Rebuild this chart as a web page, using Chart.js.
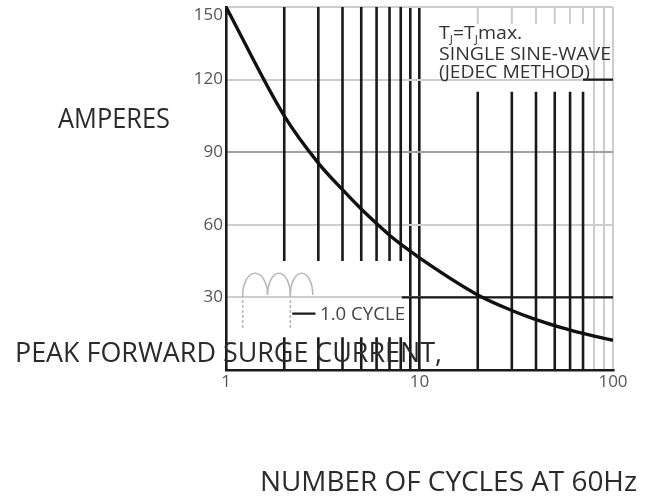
<!DOCTYPE html>
<html><head><meta charset="utf-8">
<script src="https://cdn.jsdelivr.net/npm/chart.js@4.4.1/dist/chart.umd.min.js"></script>
<style>html,body{margin:0;padding:0;background:#fff;}#wrap{position:relative;width:645px;height:499px;}</style>
</head><body><div id="wrap"><canvas id="c" width="645" height="499"></canvas></div>
<script>
// ---- data ----
const cycles  = [1, 2, 3, 4, 5, 6, 7, 8, 9, 10, 20, 30, 40, 50, 60, 70, 80, 90, 100];
const amperes = [150, 105, 85.5, 74.5, 66.5, 60.5, 55.7, 52, 49, 46.3, 31, 24.6, 20.8, 18.3, 16.5, 15.1, 14, 13.1, 12.3];
const yTicks = [0, 30, 60, 90, 120, 150];
const xTickLabels = [1, 10, 100];
// printed grid of the datasheet (values in axis units)
const brokenLowLines = [2, 3, 4, 5, 6, 7, 8];
const lowGap = [13.5, 45];
const brokenHighLines = [20, 30, 40, 50, 60, 70];
const highGap = [115, 143];
const solidDarkLines = [9, 10];
const lightLines = [80, 90, 100];
const darkHSegments = [[30, 8.1, 100], [120, 70, 100], [23.3, 2.2, 2.9]]; // [y, xFrom, xTo]
const iconBounds = [1.22, 1.64, 2.15, 2.81];
const iconLevels = [17, 31, 40]; // leg bottom, arch base, arch top

const FONT = "'Open Sans', 'DejaVu Sans', sans-serif";
const CAP = 0.714; // cap height / em for Open Sans
const DARK = '#1a1a1a';
const LIGHT = '#cdcdcd';

// build segment datasets
const darkV = [];
const lightV = [];
brokenLowLines.forEach(x => {
  darkV.push({x, y: 0}, {x, y: lowGap[0]}, {x, y: null}, {x, y: lowGap[1]}, {x, y: 150}, {x, y: null});
});
brokenHighLines.forEach(x => {
  darkV.push({x, y: 0}, {x, y: highGap[0]}, {x, y: null});
  lightV.push({x, y: highGap[1]}, {x, y: 150}, {x, y: null});
});
const darkH = [];
darkHSegments.forEach(s => { darkH.push({x: s[1], y: s[0]}, {x: s[2], y: s[0]}, {x: s[2], y: null}); });

const gridXColor = v => solidDarkLines.includes(v) ? DARK : (lightLines.includes(v) ? LIGHT : 'rgba(0,0,0,0)');
const gridYColor = v => v === 0 ? 'rgba(0,0,0,0)' : (v === 90 ? '#a0a0a0' : LIGHT);
const yMax = yTicks[yTicks.length - 1];

const annotations = {
  id: 'annotations',
  beforeDatasetsDraw(chart) {
    const ctx = chart.ctx, xs = chart.scales.x, ys = chart.scales.y;
    ctx.save();
    ctx.strokeStyle = '#b8b8b8';
    ctx.lineWidth = 1.6;
    const yb = ys.getPixelForValue(iconLevels[1]);
    const yt = ys.getPixelForValue(iconLevels[2]);
    const yl = ys.getPixelForValue(iconLevels[0]);
    for (let i = 0; i < iconBounds.length - 1; i++) {
      const x0 = xs.getPixelForValue(iconBounds[i]);
      const x1 = xs.getPixelForValue(iconBounds[i + 1]);
      ctx.beginPath();
      ctx.ellipse((x0 + x1) / 2, yb, (x1 - x0) / 2, yb - yt, 0, Math.PI, 2 * Math.PI);
      ctx.stroke();
    }
    ctx.setLineDash([3, 2]);
    [iconBounds[0], iconBounds[2]].forEach(v => {
      const x = xs.getPixelForValue(v);
      ctx.beginPath(); ctx.moveTo(x, yb); ctx.lineTo(x, yl); ctx.stroke();
    });
    ctx.restore();
  },
  afterDraw(chart) {
    const ctx = chart.ctx;
    ctx.save();
    ctx.textBaseline = 'alphabetic';
    ctx.textAlign = 'left';
    // text placed by left edge, baseline, width and cap height
    const put = (text, left, base, width, cap, color) => {
      const size = cap / CAP;
      ctx.font = size.toFixed(2) + 'px ' + FONT;
      const sx = width / ctx.measureText(text).width;
      ctx.save();
      ctx.translate(left, base);
      ctx.scale(sx, 1);
      ctx.fillStyle = color;
      ctx.fillText(text, 0, 0);
      ctx.restore();
      return {size, sx};
    };
    put('AMPERES', 58, 128, 112, 20, '#2b2b2b');
    put('PEAK FORWARD SURGE CURRENT,', 15, 362, 427, 19, '#2b2b2b');
    put('NUMBER OF CYCLES AT 60Hz', 260, 491, 377, 19, '#2b2b2b');
    put('1.0 CYCLE', 320, 320, 85, 12.5, '#444');
    const m = put('SINGLE SINE-WAVE', 439, 60, 172, 13, '#333');
    put('(JEDEC METHOD)', 439, 78, 151, 13, '#333');
    // T_J = T_J max.
    const big = m.size.toFixed(2) + 'px ' + FONT;
    const small = (m.size * 0.6).toFixed(2) + 'px ' + FONT;
    ctx.save();
    ctx.translate(439, 39);
    ctx.scale(m.sx, 1);
    ctx.fillStyle = '#333';
    let x = 0;
    [['T', 0], ['J', 1], ['=T', 0], ['J', 1], ['max.', 0]].forEach(p => {
      ctx.font = p[1] ? small : big;
      ctx.fillText(p[0], x, p[1] ? 4 : 0);
      x += ctx.measureText(p[0]).width;
    });
    ctx.restore();
    ctx.restore();
  }
};

new Chart(document.getElementById('c'), {
  type: 'line',
  data: {
    datasets: [
      { label: 'Peak forward surge current', data: cycles.map((c, i) => ({x: c, y: amperes[i]})),
        borderColor: '#111', borderWidth: 3.4, pointRadius: 0, cubicInterpolationMode: 'monotone', fill: false },
      { label: 'darkH', data: darkH, borderColor: DARK, borderWidth: 2.4, pointRadius: 0, spanGaps: false, tension: 0 },
      { label: 'darkV', data: darkV, borderColor: DARK, borderWidth: 2.6, pointRadius: 0, spanGaps: false, tension: 0 },
      { label: 'lightV', data: lightV, borderColor: LIGHT, borderWidth: 2, pointRadius: 0, spanGaps: false, tension: 0 }
    ]
  },
  options: {
    responsive: false,
    animation: false,
    layout: { padding: { left: 0, right: 32, top: 7, bottom: 105 } },
    plugins: { legend: { display: false }, tooltip: { enabled: false } },
    scales: {
      x: {
        type: 'logarithmic', min: 1, max: 100,
        afterFit: s => { s.height = 24; },
        grid: { color: c => gridXColor(c.tick.value), lineWidth: c => lightLines.includes(c.tick.value) ? 2 : 2.6, drawTicks: false },
        border: { color: DARK, width: 2.6 },
        ticks: { autoSkip: false, maxRotation: 0, padding: 2, color: '#555', font: { family: FONT, size: 17 },
          callback: v => xTickLabels.includes(v) ? String(v) : '' }
      },
      y: {
        min: 0, max: yMax,
        afterFit: s => { s.width = 226; s.paddingTop = 0; s.paddingBottom = 0; },
        afterBuildTicks: s => { s.ticks = yTicks.map(v => ({value: v})); },
        grid: { color: c => gridYColor(c.tick.value), lineWidth: 2, drawTicks: false },
        border: { color: DARK, width: 2.6 },
        ticks: { padding: 3, color: '#555', font: { family: FONT, size: 17, lineHeight: 0.95 },
          callback: v => v === 0 ? '' : (v === yMax ? ['', String(v)] : String(v)) }
      }
    }
  },
  plugins: [annotations]
});
</script></body></html>
